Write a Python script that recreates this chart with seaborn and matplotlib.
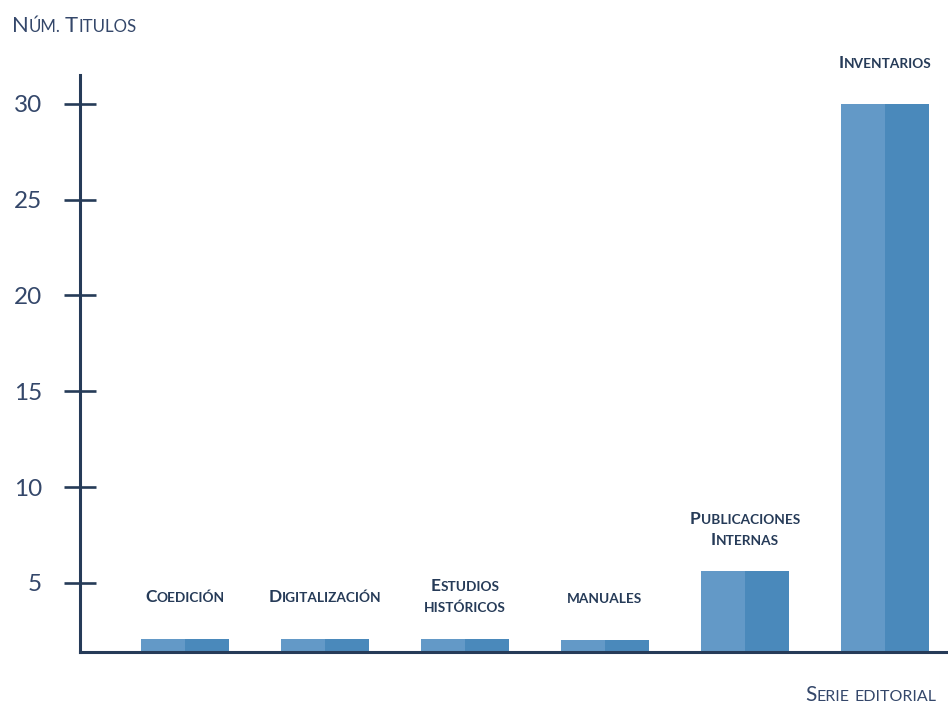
import pandas as pd
import matplotlib
matplotlib.use("Agg")
import matplotlib.pyplot as plt
import seaborn as sns
from matplotlib.font_manager import FontProperties

sns.set_style("white")
plt.rcParams['font.family'] = ['Lato', 'DejaVu Sans']

# -------------------------
# Data
# -------------------------
categories = ['Coedición', 'Digitalización', 'Estudios\nhistóricos', 'manuales',
              'Publicaciones\nInternas', 'Inventarios']
values = [2.1, 2.1, 2.1, 2.05, 5.6, 30]
y_ticks = [5, 10, 15, 20, 25, 30]

navy = '#263b58'
text_navy = '#34476a'
light_blue = '#6399c7'
dark_blue = '#4a89bb'

# two halves per bar give the shaded look
df = pd.DataFrame({
    'cat': list(range(len(categories))) * 2,
    'val': values * 2,
    'part': ['a'] * len(categories) + ['b'] * len(categories),
})

fig = plt.figure(figsize=(9.48, 7.05), dpi=100)
ax = fig.add_axes([80 / 948, 1 - 652 / 705, 1 - 80 / 948, (652 - 75) / 705])

sns.barplot(data=df, x='cat', y='val', hue='part', palette=[light_blue, dark_blue],
            width=0.63, gap=0, saturation=1, legend=False, ax=ax, native_scale=True,
            linewidth=0, edgecolor='none')

ax.set_xlim(-0.75, 5.45)
ax.set_ylim(1.4, 31.5)
ax.set_yticks(y_ticks)
ax.set_xticks([])
ax.set_xlabel('')
ax.set_ylabel('')
for side in ['top', 'right']:
    ax.spines[side].set_visible(False)
for side in ['left', 'bottom']:
    ax.spines[side].set_color(navy)
    ax.spines[side].set_linewidth(2.2)
ax.tick_params(axis='y', left=True, direction='inout', length=23, width=1.9, color=navy,
               labelsize=17.5, labelcolor=text_navy, pad=16)

renderer = fig.canvas.get_renderer()


def text_width(s, size, weight):
    prop = FontProperties(family=['Lato', 'DejaVu Sans'], size=size, weight=weight)
    w, h, d = renderer.get_text_width_height_descent(s, prop, ismath=False)
    return w * 72 / fig.dpi


def small_caps(x, y, s, big, small, weight='normal', color=navy, align='center',
               dy=0, coords='data'):
    # split into words, words into runs of capitals / lower case
    words = s.split(' ')
    space = text_width('X X', small, weight) - text_width('XX', small, weight)
    pieces = []
    for word in words:
        runs = []
        for ch in word:
            is_big = ch.isupper()
            if runs and runs[-1][1] == is_big:
                runs[-1][0] += ch.upper()
            else:
                runs.append([ch.upper(), is_big])
        pieces.append(runs)
    widths = [[text_width(r[0], big if r[1] else small, weight) for r in runs] for runs in pieces]
    total = sum(sum(w) for w in widths) + space * (len(words) - 1)
    start = -total / 2 if align == 'center' else (-total if align == 'right' else 0)
    pos = start
    for runs, ws in zip(pieces, widths):
        for r, w in zip(runs, ws):
            ax.annotate(r[0], (x, y), xycoords=coords, xytext=(pos, dy),
                        textcoords='offset points', ha='left', va='baseline',
                        fontsize=big if r[1] else small, fontweight=weight,
                        color=color, annotation_clip=False)
            pos += w
        pos += space


# bar labels
for i, (cat, v) in enumerate(zip(categories, values)):
    lines = cat.split('\n')
    if len(lines) == 1:
        small_caps(i, v, lines[0], 12.5, 9.8, weight='bold', dy=26)
    else:
        small_caps(i, v, lines[0], 12.5, 9.8, weight='bold', dy=34)
        small_caps(i, v, lines[1], 12.5, 9.8, weight='bold', dy=19)

# axis titles
small_caps(12 / 948, 1 - 32 / 705, 'Núm. Titulos', 15.8, 12.2, color=text_navy,
           align='left', coords='figure fraction')
small_caps(936 / 948, 1 - 701 / 705, 'Serie editorial', 15, 11.5, color=text_navy,
           align='right', coords='figure fraction')

fig.savefig('out.png', dpi=100)
